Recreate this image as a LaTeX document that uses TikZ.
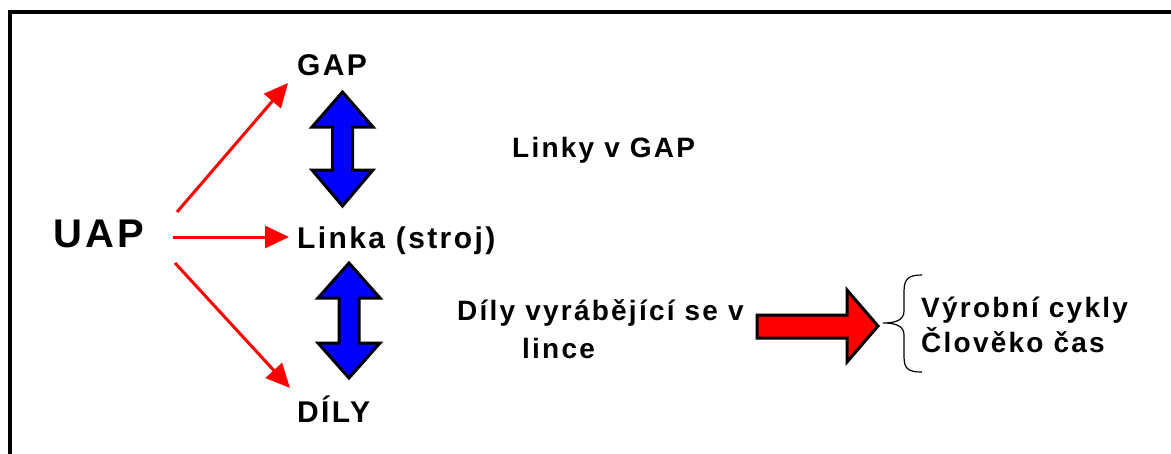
\documentclass[tikz,border=0pt]{standalone}
\usepackage{fontspec}
\setmainfont{Liberation Sans}
\newfontfamily\lab[LetterSpace=8]{Liberation Sans}
\usetikzlibrary{arrows.meta}
\definecolor{pblue}{RGB}{0,0,255}
\definecolor{pred}{RGB}{255,0,0}
\tikzset{
  big/.style={anchor=base west,inner sep=0pt,font=\lab\bfseries\fontsize{40}{48}\selectfont},
  mid/.style={anchor=base west,inner sep=0pt,font=\lab\bfseries\fontsize{30}{36}\selectfont},
  small/.style={anchor=base west,inner sep=0pt,font=\lab\bfseries\fontsize{28}{34}\selectfont},
  redarrow/.style={draw=pred,line width=3pt,-{Triangle[length=24pt,width=22pt]}},
  blockblue/.style={draw=black,line width=3pt,fill=pblue,line join=miter},
  blockred/.style={draw=black,line width=3pt,fill=pred,line join=miter},
  frame/.style={draw=black,line width=3.5pt},
  bracestyle/.style={draw=black,line width=1.2pt}
}
\begin{document}
\begin{tikzpicture}[x=1pt,y=-1pt]
\useasboundingbox (0,0) rectangle (1171,453);
\draw[frame] (10,455) -- (10,12) -- (1173,12);

\node[big] (uap) at (53,247) {UAP};
\node[mid] (gap) at (297,75) {GAP};
\node[mid] (linka) at (297,248) {Linka (stroj)};
\node[mid] (dily) at (297,422) {DÍLY};
\node[small] (linky) at (512,157) {Linky v GAP};
\node[small] (dv1) at (457,320) {Díly vyrábějící se v};
\node[small] (dv2) at (522,358) {lince};
\node[small] (vc) at (921,317) {Výrobní cykly};
\node[small] (cc) at (921,352) {Člověko čas};

\coordinate (s1) at (177,212);
\coordinate (s2) at (173,237);
\coordinate (s3) at (175,263);
\coordinate (t1) at (288,83);
\coordinate (t2) at (289,237);
\coordinate (t3) at (290,388);
\draw[redarrow] (s1) -- (t1);
\draw[redarrow] (s2) -- (t2);
\draw[redarrow] (s3) -- (t3);

% blue double arrows
\draw[blockblue] (342.5,92) -- (373,127) -- (352.5,127) -- (352.5,170) -- (373,170) -- (342.5,206)
  -- (312,170) -- (332.5,170) -- (332.5,127) -- (312,127) -- cycle;
\draw[blockblue] (349,263) -- (380,298) -- (359,298) -- (359,343) -- (380,343) -- (349,378)
  -- (318,343) -- (339,343) -- (339,298) -- (318,298) -- cycle;

% red block arrow
\draw[blockred] (757,315) -- (847,315) -- (847,290) -- (878,326) -- (847,362) -- (847,338) -- (757,338) -- cycle;

% brace
\draw[bracestyle] (922,275) .. controls (908,275) and (904,279) .. (904,292)
  -- (904,311) .. controls (904,320) and (896,323) .. (883,323)
  .. controls (896,323) and (904,326) .. (904,335)
  -- (904,356) .. controls (904,369) and (908,372) .. (922,372);
\end{tikzpicture}
\end{document}
